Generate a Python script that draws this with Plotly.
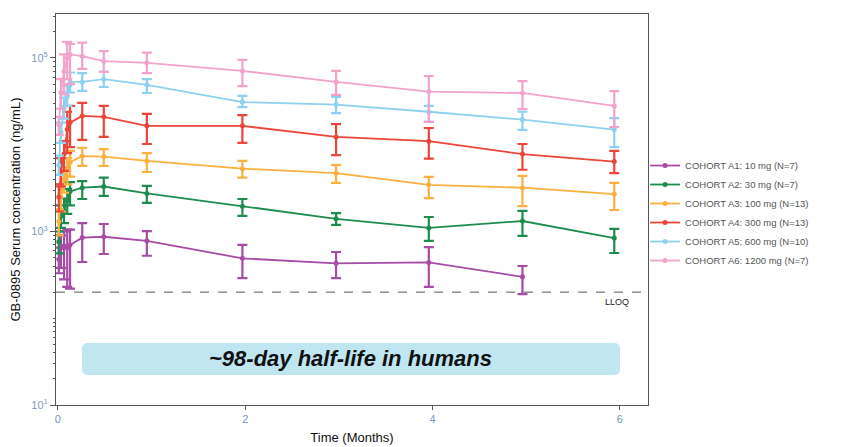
import plotly.graph_objects as go

# ---- data (months; ng/mL) ----
times = [0.01, 0.033, 0.066, 0.1, 0.13, 0.26, 0.49, 0.95, 1.97, 2.97, 3.96, 4.96, 5.94]

cohort_names = [
    "COHORT A1: 10 mg (N=7)",
    "COHORT A2: 30 mg (N=7)",
    "COHORT A3: 100 mg (N=13)",
    "COHORT A4: 300 mg (N=13)",
    "COHORT A5: 600 mg (N=10)",
    "COHORT A6: 1200 mg (N=7)",
]
colors = ["#a64ca6", "#1e8c4e", "#fbb040", "#ec4539", "#8dd0f0", "#f2a3cc"]

a1_mean = [480, 650, 680, 650, 700, 850, 870, 780, 490, 430, 440, 300]
a1_hi = [650, 900, 1000, 1050, 1050, 1250, 1220, 1010, 700, 580, 660, 400]
a1_lo = [330, 380, 280, 230, 220, 445, 550, 525, 290, 290, 230, 190]

a2_mean = [760, 1500, 1750, 2250, 2900, 3200, 3300, 2750, 1950, 1400, 1100, 1320, 840]
a2_hi = [1000, 2000, 2400, 3100, 3700, 3800, 4170, 3350, 2370, 1630, 1470, 1730, 1070]
a2_lo = [560, 1100, 1250, 1600, 2000, 2370, 2570, 2140, 1510, 1190, 780, 890, 565]

a3_mean = [1300, 2500, 4000, 5200, 6300, 7400, 7300, 6500, 5300, 4700, 3450, 3200, 2700]
a3_hi = [1800, 3500, 5500, 7000, 8500, 9200, 8900, 8000, 6500, 5850, 4260, 4380, 3630]
a3_lo = [900, 1700, 2800, 3500, 4300, 5700, 5700, 4850, 4170, 3630, 2430, 1960, 1770]

a4_mean = [2500, 4900, 7800, 15000, 18000, 21500, 21000, 16500, 16500, 12300, 11000, 7800, 6400]
a4_hi = [3500, 7000, 11000, 24000, 28000, 30300, 28000, 22700, 22000, 17300, 15600, 10200, 8500]
a4_lo = [1700, 3300, 5000, 8000, 9400, 11400, 12300, 10200, 10500, 7600, 6900, 5150, 4700]

a5_mean = [5800, 14000, 27000, 37000, 53000, 53000, 57000, 49000, 31000, 29000, 24000, 19500, 14900]
a5_hi = [7500, 18000, 35000, 48000, 68000, 67000, 69000, 57000, 36500, 35600, 28000, 24000, 20300]
a5_lo = [4500, 10500, 20000, 28000, 40000, 41700, 46300, 39500, 27200, 23200, 18300, 14800, 9400]

a6_mean = [17000, 40000, 70000, 100000, 110000, 105000, 92000, 88000, 71000, 53000, 41000, 39500, 28000]
a6_hi = [21000, 57000, 110000, 153000, 145000, 150000, 120000, 115000, 95000, 71000, 62000, 54000, 41500]
a6_lo = [13000, 26000, 38000, 57000, 50000, 75000, 69000, 67000, 47500, 37500, 18300, 25800, 16000]

means = [a1_mean, a2_mean, a3_mean, a4_mean, a5_mean, a6_mean]
his = [a1_hi, a2_hi, a3_hi, a4_hi, a5_hi, a6_hi]
los = [a1_lo, a2_lo, a3_lo, a4_lo, a5_lo, a6_lo]

lloq = 200
y_tickvals = [10, 1000, 100000]
y_ticktext = ["10<sup>1</sup>", "10<sup>3</sup>", "10<sup>5</sup>"]
x_tickvals = [0, 2, 4, 6]

fig = go.Figure()

for name, col, m, hi, lo in zip(cohort_names, colors, means, his, los):
    t = times[:len(m)]
    fig.add_trace(go.Scatter(
        x=t, y=m, name=name, mode="lines+markers",
        line=dict(color=col, width=1.8),
        marker=dict(color=col, size=5, symbol="circle"),
        error_y=dict(type="data", symmetric=False,
                     array=[h - v for h, v in zip(hi, m)],
                     arrayminus=[v - l for v, l in zip(m, lo)],
                     color=col, thickness=2.2, width=5),
    ))

# LLOQ line
fig.add_shape(type="line", xref="paper", x0=0, x1=1, yref="y", y0=lloq, y1=lloq,
              line=dict(color="#555555", width=1, dash="dash"))
fig.add_annotation(text="LLOQ", xref="x", x=5.97, yref="paper", y=0.263,
                   xanchor="center", yanchor="middle",
                   showarrow=False, font=dict(family="Arial", size=9, color="#222222"))

# rounded highlight box
x0, x1, y0, y1 = 0.0439, 0.9527, 0.0767, 0.1586
rx, ry = 0.0101, 0.0153
path = (f"M {x0+rx},{y0} L {x1-rx},{y0} Q {x1},{y0} {x1},{y0+ry} "
        f"L {x1},{y1-ry} Q {x1},{y1} {x1-rx},{y1} L {x0+rx},{y1} "
        f"Q {x0},{y1} {x0},{y1-ry} L {x0},{y0+ry} Q {x0},{y0} {x0+rx},{y0} Z")
fig.add_shape(type="path", xref="paper", yref="paper", path=path,
              fillcolor="#bfe6f1", line=dict(width=0), layer="below")
fig.add_annotation(text="<b><i>~98-day half-life in humans</i></b>",
                   xref="paper", yref="paper", x=(x0 + x1) / 2, y=(y0 + y1) / 2,
                   xanchor="center", yanchor="middle",
                   showarrow=False, font=dict(family="Arial", size=22, color="#111111"))

# page has an 8px body margin, so the figure is sized to fit the 843x447 window
fig.update_layout(
    width=835, height=439,
    margin=dict(l=48, r=195, t=6, b=42),
    paper_bgcolor="white", plot_bgcolor="white",
    font=dict(family="Arial", size=11, color="#222222"),
    showlegend=True,
    legend=dict(x=0.995, y=0.491, xanchor="left", yanchor="middle",
                font=dict(family="Arial", size=9.5, color="#555555"),
                bgcolor="rgba(0,0,0,0)", tracegroupgap=0),
)
fig.update_xaxes(
    range=[-0.02, 6.3], tickvals=x_tickvals, ticks="outside", ticklen=4,
    tickcolor="#555555", showline=True, linecolor="#555555", linewidth=1,
    mirror=True, showgrid=False, zeroline=False, automargin=False,
    tickfont=dict(family="Arial", size=11, color="#6f95c4"),
    title=dict(text="Time (Months)", font=dict(family="Arial", size=13, color="#111111"),
               standoff=8),
)
fig.update_yaxes(
    type="log", range=[1, 5.507], tickvals=y_tickvals, ticktext=y_ticktext,
    ticks="outside", ticklen=5, tickcolor="#555555",
    minor=dict(tickvals=[k * 10 ** d for d in range(1, 6) for k in range(2, 11)],
               ticks="outside", ticklen=2.5, tickcolor="#555555"),
    showline=True, linecolor="#555555", linewidth=1, mirror=True,
    showgrid=False, zeroline=False, automargin=False,
    tickfont=dict(family="Arial", size=11, color="#7f9bc2"),
    title=dict(text="GB-0895 Serum concentration (ng/mL)",
               font=dict(family="Arial", size=13, color="#111111"), standoff=10),
)

fig.write_html("out.html")
